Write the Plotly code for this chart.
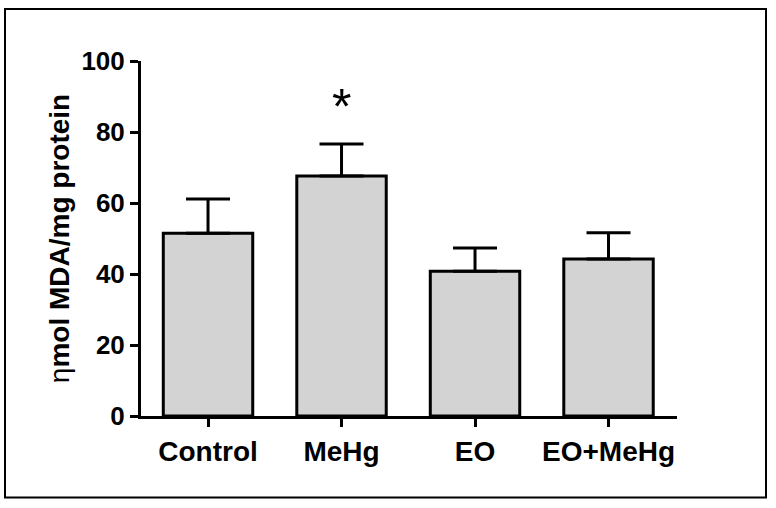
import plotly.graph_objects as go

categories = ["Control", "MeHg", "EO", "EO+MeHg"]
means = [51.5, 67.6, 40.8, 44.2]
sem_plus = [9.6, 9.0, 6.5, 7.4]
sem_minus = [0, 0, 0, 0]
y_ticks = [0, 20, 40, 60, 80, 100]
sig_label = "*"
sig_category = "MeHg"
sig_y = 87

FONT = "Liberation Sans, Arial, sans-serif"

fig = go.Figure()
fig.add_trace(go.Bar(
    x=categories, y=means, width=0.67,
    marker=dict(color="#d3d3d3", line=dict(color="black", width=3)),
    error_y=dict(type="data", symmetric=False, array=sem_plus, arrayminus=sem_minus,
                 color="black", thickness=3, width=22),
))

fig.add_annotation(x=sig_category, y=sig_y, text=sig_label, showarrow=False,
                   font=dict(family=FONT, size=50, color="black"), yanchor="middle")

fig.add_shape(type="rect", xref="paper", yref="paper",
              x0=(5 - 141) / 536, x1=(766 - 141) / 536,
              y0=(415.5 - 497) / 354.5, y1=(415.5 - 9) / 354.5,
              line=dict(color="black", width=2), fillcolor="rgba(0,0,0,0)", layer="below")

fig.update_layout(
    width=776, height=508,
    margin=dict(l=141, r=99, t=61, b=92),
    paper_bgcolor="white", plot_bgcolor="white",
    showlegend=False,
    font=dict(family=FONT, color="black"),
    xaxis=dict(range=[-0.502, 3.513], showline=True, linecolor="black", linewidth=3,
               ticks="outside", ticklen=8, tickwidth=3, tickcolor="black",
               tickfont=dict(family=FONT, size=28, color="black", weight="bold"),
               showgrid=False, zeroline=False),
    yaxis=dict(range=[0, 100], tickvals=y_ticks, showline=True, linecolor="black", linewidth=3,
               ticks="outside", ticklen=8, tickwidth=3, tickcolor="black",
               tickfont=dict(family=FONT, size=26, color="black", weight="bold"),
               showgrid=False, zeroline=False,
               title=dict(text="η<b>mol MDA/mg protein</b>",
                          font=dict(family=FONT, size=28, color="black"), standoff=4)),
)

fig.write_html("out.html", config={"displayModeBar": False},
               post_script="document.body.style.margin='0px';")
